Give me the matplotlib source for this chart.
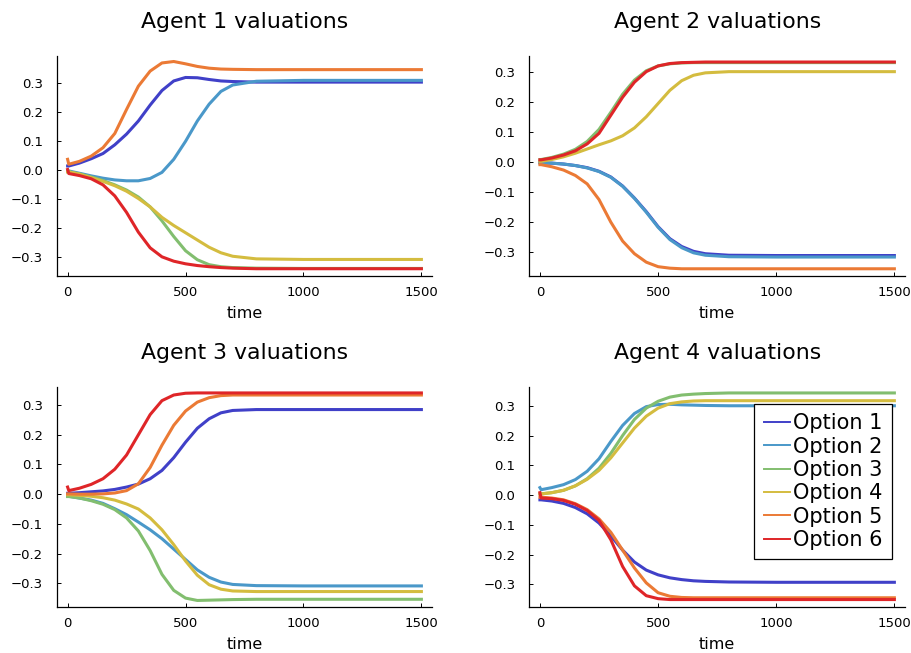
import matplotlib
matplotlib.use("Agg")
import matplotlib.pyplot as plt

# time points (0 and 5 carry the tiny start-up jump)
time = [0, 5, 50, 100, 150, 200, 250, 300, 350, 400, 450, 500, 550, 600, 650, 700, 800, 1000, 1500]

options = ["Option 1", "Option 2", "Option 3", "Option 4", "Option 5", "Option 6"]
colors = ["#4040c8", "#4a98c9", "#82be6f", "#d4bc3f", "#eb7a35", "#df2528"]

agent1 = [
    [0.015, 0.015, 0.025, 0.040, 0.058, 0.088, 0.125, 0.170, 0.225, 0.275, 0.308, 0.320, 0.319, 0.313, 0.308, 0.306, 0.304, 0.304, 0.304],
    [-0.002, -0.002, -0.010, -0.019, -0.027, -0.033, -0.036, -0.036, -0.028, -0.007, 0.038, 0.100, 0.170, 0.228, 0.272, 0.294, 0.307, 0.310, 0.310],
    [-0.005, -0.005, -0.012, -0.023, -0.035, -0.050, -0.068, -0.092, -0.126, -0.174, -0.228, -0.277, -0.308, -0.325, -0.332, -0.335, -0.337, -0.338, -0.338],
    [-0.005, -0.005, -0.013, -0.025, -0.038, -0.053, -0.072, -0.097, -0.126, -0.162, -0.190, -0.215, -0.240, -0.265, -0.284, -0.296, -0.305, -0.307, -0.307],
    [0.038, 0.021, 0.031, 0.049, 0.078, 0.127, 0.210, 0.290, 0.342, 0.370, 0.375, 0.367, 0.358, 0.352, 0.349, 0.348, 0.347, 0.347, 0.347],
    [0.003, -0.011, -0.018, -0.029, -0.050, -0.088, -0.145, -0.213, -0.267, -0.298, -0.313, -0.322, -0.328, -0.332, -0.335, -0.337, -0.339, -0.339, -0.339],
]

agent2 = [
    [-0.003, -0.003, -0.004, -0.007, -0.012, -0.019, -0.031, -0.050, -0.080, -0.120, -0.165, -0.215, -0.255, -0.281, -0.297, -0.305, -0.310, -0.311, -0.311],
    [-0.003, -0.003, -0.004, -0.007, -0.012, -0.020, -0.032, -0.051, -0.081, -0.121, -0.167, -0.217, -0.258, -0.285, -0.302, -0.310, -0.315, -0.316, -0.316],
    [0.008, 0.008, 0.015, 0.026, 0.042, 0.068, 0.108, 0.165, 0.225, 0.272, 0.303, 0.319, 0.326, 0.329, 0.330, 0.330, 0.330, 0.330, 0.330],
    [0.002, 0.002, 0.008, 0.017, 0.029, 0.043, 0.057, 0.070, 0.087, 0.113, 0.150, 0.194, 0.238, 0.270, 0.288, 0.296, 0.300, 0.300, 0.300],
    [-0.009, -0.009, -0.016, -0.027, -0.045, -0.073, -0.125, -0.200, -0.263, -0.305, -0.333, -0.348, -0.353, -0.355, -0.355, -0.355, -0.355, -0.355, -0.355],
    [0.007, 0.007, 0.013, 0.023, 0.037, 0.060, 0.095, 0.155, 0.215, 0.265, 0.300, 0.319, 0.327, 0.330, 0.331, 0.332, 0.332, 0.332, 0.332],
]

agent3 = [
    [0.003, 0.003, 0.005, 0.008, 0.011, 0.016, 0.024, 0.034, 0.052, 0.080, 0.123, 0.175, 0.222, 0.254, 0.274, 0.282, 0.285, 0.285, 0.285],
    [-0.007, -0.007, -0.013, -0.020, -0.031, -0.049, -0.069, -0.094, -0.120, -0.150, -0.185, -0.220, -0.255, -0.280, -0.296, -0.304, -0.308, -0.309, -0.309],
    [-0.008, -0.008, -0.013, -0.022, -0.034, -0.052, -0.080, -0.124, -0.190, -0.270, -0.324, -0.350, -0.358, -0.357, -0.356, -0.355, -0.354, -0.354, -0.354],
    [-0.002, -0.002, -0.004, -0.007, -0.012, -0.020, -0.033, -0.050, -0.080, -0.120, -0.170, -0.225, -0.273, -0.305, -0.320, -0.326, -0.328, -0.328, -0.328],
    [0.001, 0.001, 0.000, 0.000, 0.001, 0.004, 0.012, 0.035, 0.090, 0.165, 0.232, 0.280, 0.310, 0.325, 0.332, 0.334, 0.334, 0.334, 0.334],
    [0.024, 0.012, 0.020, 0.033, 0.052, 0.084, 0.132, 0.200, 0.268, 0.315, 0.334, 0.340, 0.341, 0.341, 0.341, 0.341, 0.341, 0.341, 0.341],
]

agent4 = [
    [-0.016, -0.016, -0.020, -0.028, -0.042, -0.063, -0.094, -0.137, -0.185, -0.225, -0.252, -0.268, -0.278, -0.284, -0.288, -0.290, -0.292, -0.293, -0.293],
    [0.025, 0.018, 0.025, 0.035, 0.052, 0.080, 0.122, 0.180, 0.234, 0.274, 0.297, 0.304, 0.305, 0.303, 0.302, 0.301, 0.300, 0.300, 0.300],
    [0.004, 0.004, 0.008, 0.016, 0.031, 0.055, 0.090, 0.140, 0.200, 0.254, 0.292, 0.315, 0.329, 0.336, 0.339, 0.341, 0.343, 0.343, 0.343],
    [0.004, 0.004, 0.008, 0.016, 0.031, 0.053, 0.083, 0.125, 0.175, 0.225, 0.265, 0.292, 0.307, 0.313, 0.316, 0.317, 0.317, 0.317, 0.317],
    [-0.007, -0.007, -0.010, -0.016, -0.029, -0.049, -0.080, -0.125, -0.185, -0.245, -0.295, -0.328, -0.340, -0.344, -0.345, -0.345, -0.345, -0.345, -0.345],
    [0.008, -0.010, -0.012, -0.018, -0.031, -0.052, -0.085, -0.150, -0.240, -0.305, -0.338, -0.348, -0.351, -0.351, -0.351, -0.351, -0.351, -0.351, -0.351],
]

agents = [agent1, agent2, agent3, agent4]
titles = ["Agent 1 valuations", "Agent 2 valuations", "Agent 3 valuations", "Agent 4 valuations"]
ylims = [(-0.363, 0.395), (-0.378, 0.353), (-0.379, 0.362), (-0.375, 0.364)]
xticks = [0, 500, 1000, 1500]
yticks = [-0.3, -0.2, -0.1, 0.0, 0.1, 0.2, 0.3]

W, H = 912, 653
fig = plt.figure(figsize=(W / 100, H / 100), dpi=100)
# axes boxes in pixels: left, top, right, bottom
boxes = [(57, 55.7, 432, 275.7), (529.3, 55.7, 905, 275.7),
         (57, 386.7, 432, 606.7), (529.3, 386.7, 905, 606.7)]

for k, (data, title, ylim, box) in enumerate(zip(agents, titles, ylims, boxes)):
    l, t, r, b = box
    ax = fig.add_axes([l / W, 1 - b / H, (r - l) / W, (b - t) / H])
    for name, col, vals in zip(options, colors, data):
        ax.plot(time, vals, color=col, lw=2.2, label=name)
    ax.set_xlim(-45, 1545)
    ax.set_ylim(*ylim)
    ax.set_xticks(xticks)
    ax.set_xticklabels([str(v) for v in xticks])
    ax.set_yticks(yticks)
    ax.set_yticklabels([f"{v:.1f}".replace("-", "\u2212") for v in yticks])
    ax.tick_params(direction="in", length=3, width=0.7, labelsize=9.5)
    ax.tick_params(axis="x", pad=7.5)
    ax.tick_params(axis="y", pad=10)
    for side in ["top", "right"]:
        ax.spines[side].set_visible(False)
    for side in ["left", "bottom"]:
        ax.spines[side].set_linewidth(0.9)
    ax.set_xlabel("time", fontsize=11.5, labelpad=5)
    ax.set_title(title, fontsize=15.8, pad=20)
    if k == 3:
        leg = ax.legend(loc="upper right", bbox_to_anchor=(0.965, 0.921), borderaxespad=0,
                        fontsize=15, handlelength=1.25, handletextpad=0.15, labelspacing=0.16,
                        borderpad=0.45, fancybox=False, framealpha=1, edgecolor="black")
        leg.get_frame().set_linewidth(0.9)
        for h in leg.legend_handles:
            h.set_linewidth(1.4)

fig.savefig("out.png", dpi=100)
